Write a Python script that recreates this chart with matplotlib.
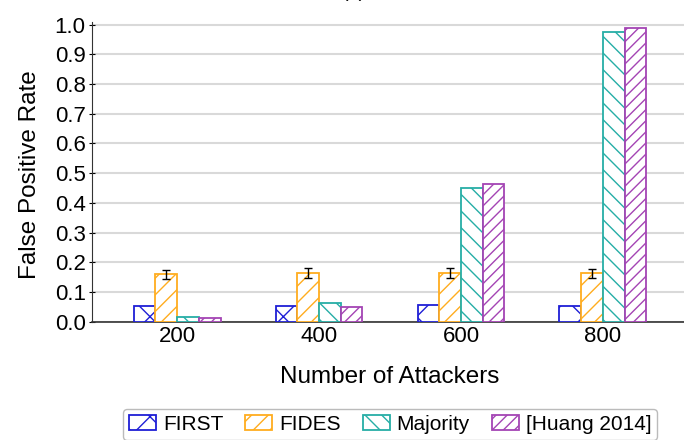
import matplotlib
matplotlib.use("Agg")
import matplotlib.pyplot as plt
import numpy as np

plt.rcParams['font.family'] = ['Liberation Sans', 'DejaVu Sans']
plt.rcParams['hatch.linewidth'] = 1.0

# data
attackers = ['200', '400', '600', '800']
first = [0.053, 0.054, 0.055, 0.054]
fides = [0.159, 0.163, 0.165, 0.163]
fides_err = [0.015, 0.017, 0.017, 0.015]
majority = [0.017, 0.062, 0.450, 0.975]
huang = [0.013, 0.051, 0.462, 0.988]

series = [
    ('FIRST', first, '#1f1fd6', 'x'),
    ('FIDES', fides, '#ffad1f', '//'),
    ('Majority', majority, '#26aea6', '\\\\'),
    ('[Huang 2014]', huang, '#a444b4', '///'),
]

fig = plt.figure(figsize=(6.84, 4.40), dpi=100)
ax = fig.add_axes([92 / 684, 1 - 321.7 / 440, 596 / 684, 300 / 440])

x = np.arange(len(attackers))
w = 0.153
for i, (name, vals, col, hatch) in enumerate(series):
    pos = x + (i - 1.5) * w
    ax.bar(pos, vals, w, facecolor='white', edgecolor=col, hatch=hatch,
           linewidth=1.3, label=name, zorder=3)
    if name == 'FIDES':
        ax.errorbar(pos, vals, yerr=fides_err, fmt='none', ecolor='black',
                    elinewidth=1, capsize=3, capthick=1, zorder=4)

ax.set_xlim(-0.6, 3.6)
ax.set_ylim(0, 1.01)
ax.set_xticks(x)
ax.set_xticklabels(attackers)
yt = np.arange(0, 1.01, 0.1)
ax.set_yticks(yt)
ax.set_yticklabels([f'{v:.1f}' for v in yt])
ax.tick_params(axis='both', labelsize=16, direction='inout', length=5, width=0.8)
ax.tick_params(axis='y', pad=2)
ax.tick_params(axis='x', length=0, pad=3)
ax.grid(axis='y', color='#d9d9d9', linewidth=1.5, zorder=0)
ax.set_axisbelow(True)
for s in ['top', 'right']:
    ax.spines[s].set_visible(False)
ax.spines['left'].set_color('#333333')
ax.spines['bottom'].set_color('#333333')
ax.spines['bottom'].set_linewidth(1.2)

ax.set_xlabel('Number of Attackers', fontsize=17.5)
ax.set_ylabel('False Positive Rate', fontsize=17.5)
ax.xaxis.set_label_coords(0.5, -0.183)
ax.yaxis.set_label_coords(-0.104, 0.489)
ax.xaxis.label.set_va('center')
ax.yaxis.label.set_va('center')

fig.text(354 / 684, 1.018, '(a)', ha='center', va='center', fontsize=14)

ax.legend(loc='upper center', bbox_to_anchor=(0.5, -0.29), ncol=4,
          fontsize=15, frameon=True, fancybox=True, edgecolor='#aaaaaa',
          handlelength=1.3, handleheight=0.75, handletextpad=0.33,
          columnspacing=1.05, borderpad=0.3, borderaxespad=0)

fig.savefig('out.png', dpi=100)
